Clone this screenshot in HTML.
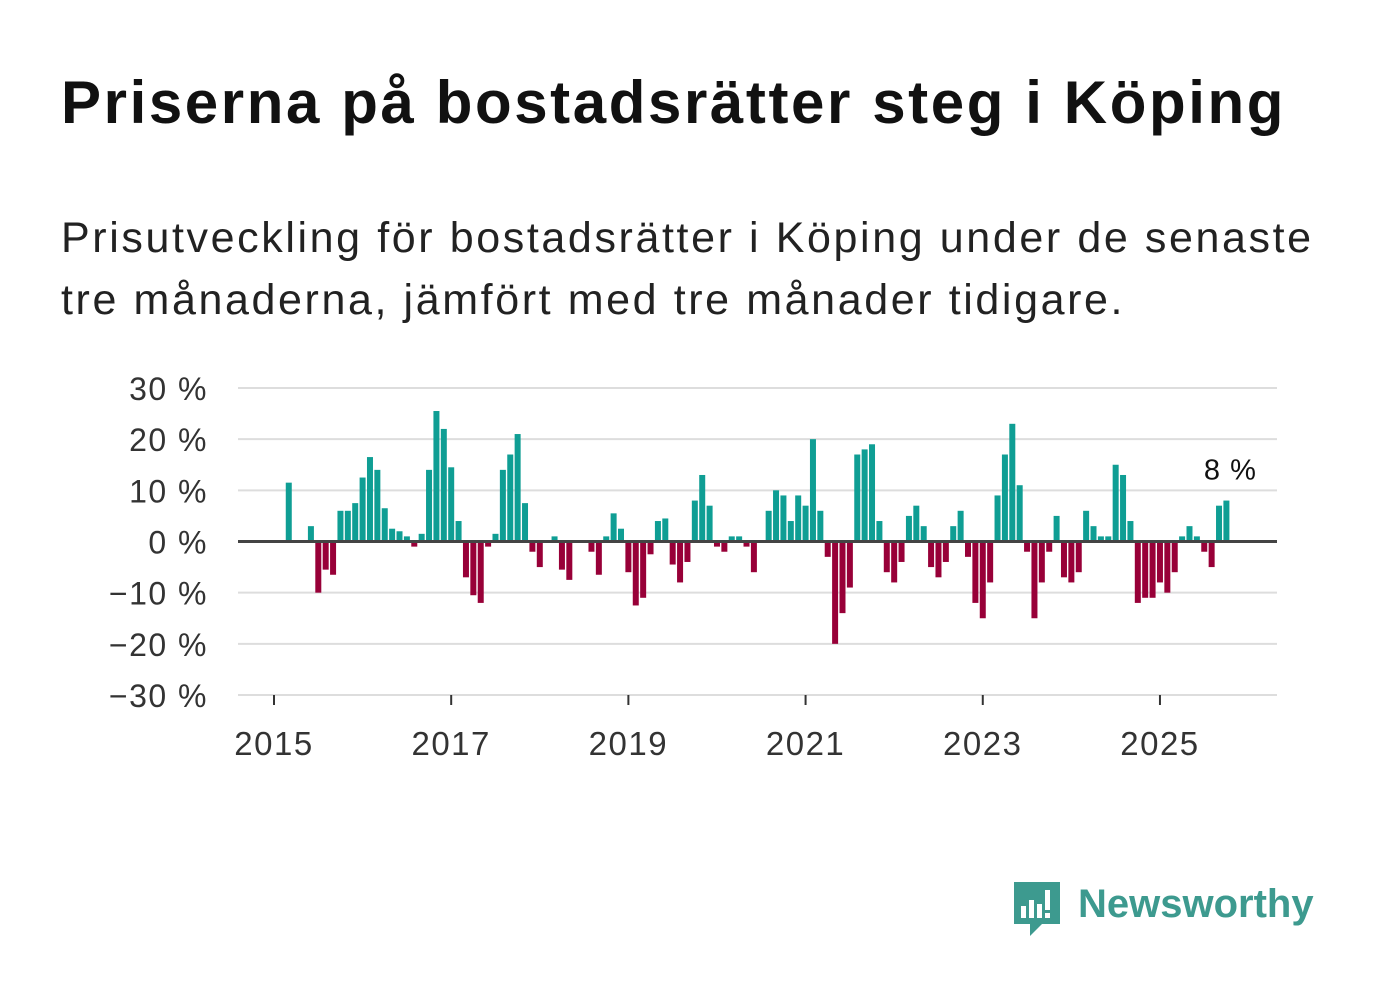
<!DOCTYPE html>
<html><head><meta charset="utf-8">
<style>
body{margin:0;width:1382px;height:999px;background:#fff;font-family:"Liberation Sans",sans-serif;overflow:hidden;position:relative}
h1{position:absolute;left:61px;top:68px;margin:0;font-size:60px;font-weight:bold;color:#111;letter-spacing:2.6px;white-space:nowrap}
p{position:absolute;left:61px;top:207px;margin:0;font-size:43px;line-height:62px;color:#222;letter-spacing:2.6px;white-space:nowrap}
svg{position:absolute;left:0;top:0}
</style></head><body>
<h1>Priserna på bostadsrätter steg i Köping</h1>
<p>Prisutveckling för bostadsrätter i Köping under de senaste<br>tre månaderna, jämfört med tre månader tidigare.</p>
<svg id="c" width="1382" height="999"></svg>
<div style="position:absolute;left:1012px;top:880px;height:60px;display:flex;align-items:flex-start">
<svg width="50" height="60" style="position:static"><path d="M2 2h46v42H30l-12 12v-12H2z" fill="#3d9a8f"/><rect x="9" y="26" width="5" height="12" fill="#fff"/><rect x="17" y="20" width="5" height="18" fill="#fff"/><rect x="25" y="24" width="5" height="14" fill="#fff"/><rect x="33" y="10" width="5" height="20" fill="#fff"/><rect x="33" y="33" width="5" height="5" fill="#fff"/></svg>
<span style="font-size:40px;font-weight:bold;color:#3d9a8f;margin-left:16px;line-height:48px">Newsworthy</span></div>
<script>
const months=[2,5,6,7,8,9,10,11,12,13,14,15,16,17,18,19,20,21,22,23,24,25,26,27,28,29,30,31,32,33,34,35,36,38,39,40,43,44,45,46,47,48,49,50,51,52,53,54,55,56,57,58,59,60,61,62,63,64,65,67,68,69,70,71,72,73,74,75,76,77,78,79,80,81,82,83,84,85,86,87,88,89,90,91,92,93,94,95,96,97,98,99,100,101,102,103,104,105,106,107,108,109,110,111,112,113,114,115,116,117,118,119,120,121,122,123,124,125,126,127,128,129];
const values=[11.5,3,-10,-5.5,-6.5,6,6,7.5,12.5,16.5,14,6.5,2.5,2,1,-1,1.5,14,25.5,22,14.5,4,-7,-10.5,-12,-1,1.5,14,17,21,7.5,-2,-5,1,-5.5,-7.5,-2,-6.5,1,5.5,2.5,-6,-12.5,-11,-2.5,4,4.5,-4.5,-8,-4,8,13,7,-1,-2,1,1,-1,-6,6,10,9,4,9,7,20,6,-3,-20,-14,-9,17,18,19,4,-6,-8,-4,5,7,3,-5,-7,-4,3,6,-3,-12,-15,-8,9,17,23,11,-2,-15,-8,-2,5,-7,-8,-6,6,3,1,1,15,13,4,-12,-11,-11,-8,-10,-6,1,3,1,-2,-5,7,8];
const yTicks=[30,20,10,0,-10,-20,-30];
const xTicks=[2015,2017,2019,2021,2023,2025];
const NS="http://www.w3.org/2000/svg",s=document.getElementById('c');
const y=v=>541.5-v*5.117, x=m=>274+m*7.383;
function el(t,a,txt){const e=document.createElementNS(NS,t);for(const k in a)e.setAttribute(k,a[k]);if(txt!=null)e.textContent=txt;s.appendChild(e);return e;}
yTicks.forEach(v=>{
 const g=el('line',{x1:238,x2:1277,y1:y(v),y2:y(v),stroke:'#ddd','stroke-width':2});
 
 
 const t=el('text',{x:208,y:y(v)+12,'text-anchor':'end','font-size':32,'letter-spacing':1.5,fill:'#333','font-family':'Liberation Sans,sans-serif'},(v<0?'\u2212'+(-v):v)+' %');
 
 
});
xTicks.forEach(yr=>{
 const xx=x((yr-2015)*12);
 const l=el('line',{x1:xx,x2:xx,y1:695,y2:705,stroke:'#333','stroke-width':2});
 
 
 const t=el('text',{x:xx,y:755,'text-anchor':'middle','font-size':33,'letter-spacing':1.5,fill:'#333','font-family':'Liberation Sans,sans-serif'},yr);
 
 
});
months.forEach((m,i)=>{
 const v=values[i],cx=x(m);
 const r=el('rect',{x:cx-3,width:6,y:Math.min(y(v),y(0)),height:Math.abs(y(v)-y(0)),fill:v>=0?'#0f9e94':'#980038'});
 
 
});
const z=el('line',{x1:238,x2:1277,y1:y(0),y2:y(0),stroke:'#444','stroke-width':3});


const li=months.length-1;
const lab=el('text',{x:x(months[li])+4,y:y(values[li])-21,'text-anchor':'middle','font-size':29,'letter-spacing':1,fill:'#111','font-family':'Liberation Sans,sans-serif'},Math.round(values[li])+' %');


</script>
</body></html>
